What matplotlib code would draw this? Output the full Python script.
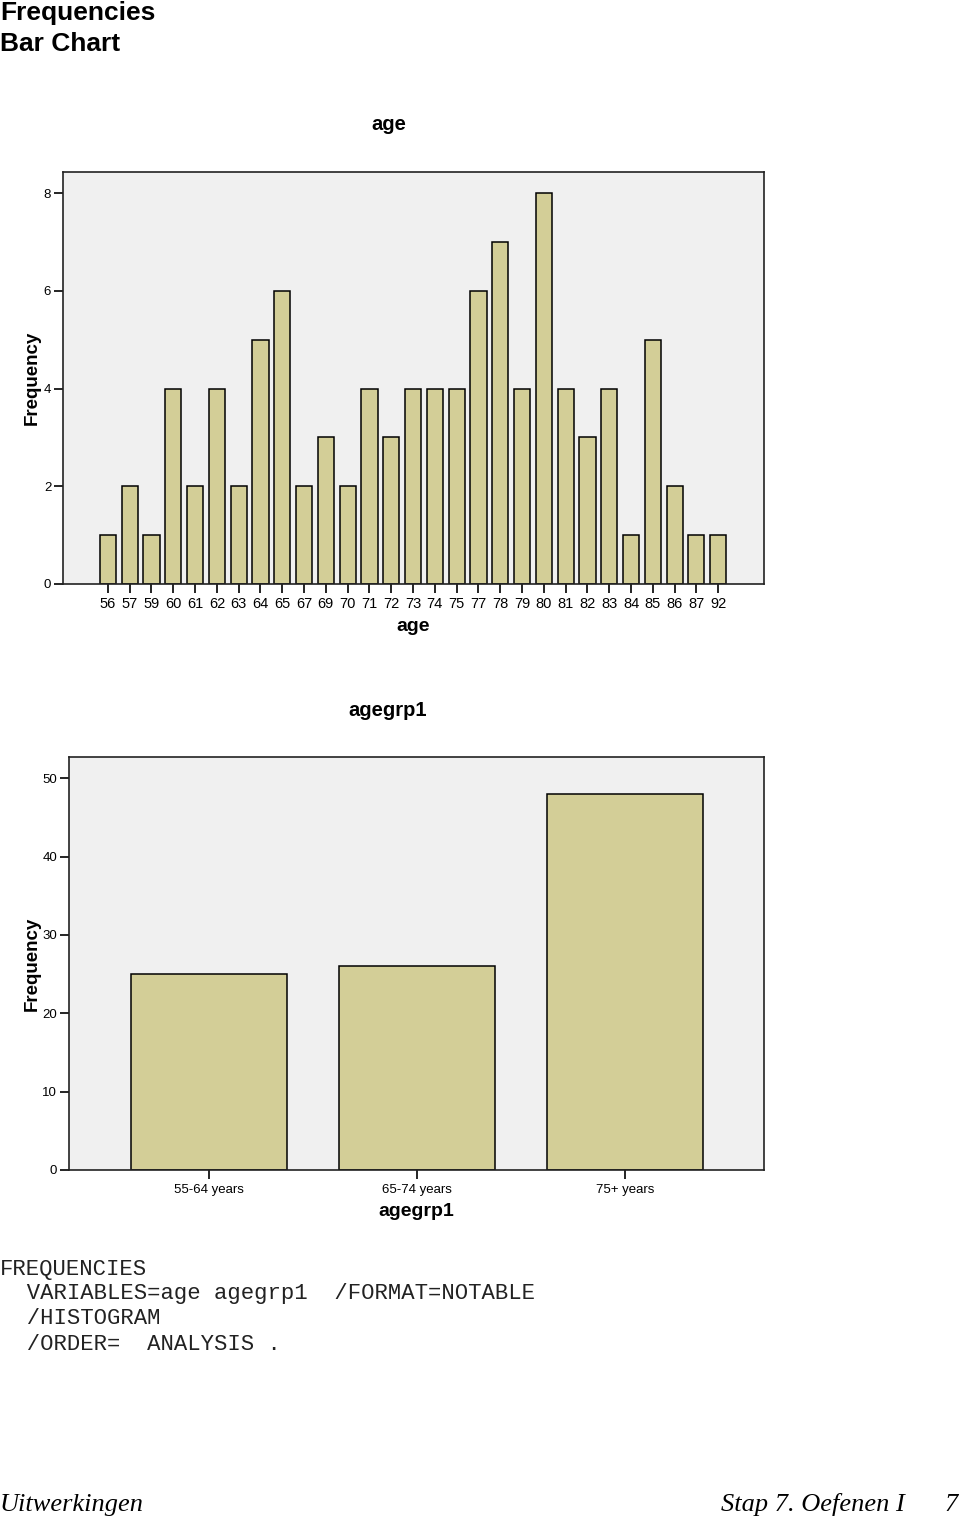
import matplotlib.pyplot as plt

# data
ages = ['56', '57', '59', '60', '61', '62', '63', '64', '65', '67', '69', '70', '71', '72', '73',
        '74', '75', '77', '78', '79', '80', '81', '82', '83', '84', '85', '86', '87', '92']
age_counts = [1, 2, 1, 4, 2, 4, 2, 5, 6, 2, 3, 2, 4, 3, 4,
              4, 4, 6, 7, 4, 8, 4, 3, 4, 1, 5, 2, 1, 1]
groups = ['55-64 years', '65-74 years', '75+ years']
group_counts = [25, 26, 48]

W, H = 960, 1519
BAR = '#D3CE97'
BG = '#F0F0F0'
SANS = 'Liberation Sans'

plt.rcParams['font.family'] = SANS

fig = plt.figure(figsize=(W / 100, H / 100), dpi=100)


def px(x, y):
    return x / W, 1 - y / H


def box(l, t, r, b):
    return [l / W, 1 - b / H, (r - l) / W, (b - t) / H]


def style(ax):
    ax.set_facecolor(BG)
    for s in ax.spines.values():
        s.set_linewidth(1.2)
        s.set_color('#222222')
    ax.tick_params(direction='out', length=6.5, width=1.2, pad=2, labelsize=9.5)


# header
fig.text(0, 1 - 1 / H, 'Frequencies\nBar Chart', fontsize=19, fontweight='bold',
         va='top', ha='left', linespacing=1.35)

# --- age chart ---
ax1 = fig.add_axes(box(63, 172, 764, 584))
style(ax1)
x1 = range(len(ages))
ax1.bar(x1, age_counts, width=0.74, color=BAR, edgecolor='black', linewidth=1.1)
ax1.set_xlim(-2.06, len(ages) - 1 + 2.1)
ax1.set_ylim(0, 8.43)
ax1.set_yticks([0, 2, 4, 6, 8])
ax1.set_xticks(list(x1))
ax1.set_xticklabels(ages)
ax1.tick_params(axis='x', labelsize=10.5, pad=3)
ax1.set_xlabel('age', fontsize=14, fontweight='bold', labelpad=5)
ax1.set_ylabel('Frequency', fontsize=13.5, fontweight='bold')
ax1.yaxis.set_label_coords((41 - 63) / 701, 0.5)
fig.text(*px(389, 125), 'age', fontsize=14.5, fontweight='bold', ha='center', va='center')

# --- agegrp1 chart ---
ax2 = fig.add_axes(box(69, 757, 764, 1170))
style(ax2)
x2 = range(len(groups))
ax2.bar(x2, group_counts, width=0.75, color=BAR, edgecolor='black', linewidth=1.1)
ax2.set_xlim(-0.673, 2.668)
ax2.set_ylim(0, 52.7)
ax2.set_yticks([0, 10, 20, 30, 40, 50])
ax2.set_xticks(list(x2))
ax2.set_xticklabels(groups)
ax2.tick_params(axis='x', pad=3.5)
ax2.set_xlabel('agegrp1', fontsize=14, fontweight='bold', labelpad=5)
ax2.set_ylabel('Frequency', fontsize=13.5, fontweight='bold')
ax2.yaxis.set_label_coords((41 - 69) / 695, 0.5)
fig.text(*px(388, 710), 'agegrp1', fontsize=14.5, fontweight='bold', ha='center', va='center')

# syntax block
syntax = ['FREQUENCIES',
          '  VARIABLES=age agegrp1  /FORMAT=NOTABLE',
          '  /HISTOGRAM',
          '  /ORDER=  ANALYSIS .']
for i, line in enumerate(syntax):
    fig.text(*px(0, 1269 + 25 * i), line, family='Liberation Mono', fontsize=16,
             ha='left', va='center', color='#222222')

# footer
fig.text(*px(0, 1505), 'Uitwerkingen', family='Liberation Serif', style='italic',
         fontsize=19, ha='left', va='center')
fig.text(*px(905, 1505), 'Stap 7. Oefenen I', family='Liberation Serif', style='italic',
         fontsize=19, ha='right', va='center')
fig.text(*px(958, 1505), '7', family='Liberation Serif', style='italic',
         fontsize=19, ha='right', va='center')

fig.savefig('out.png', dpi=100)
